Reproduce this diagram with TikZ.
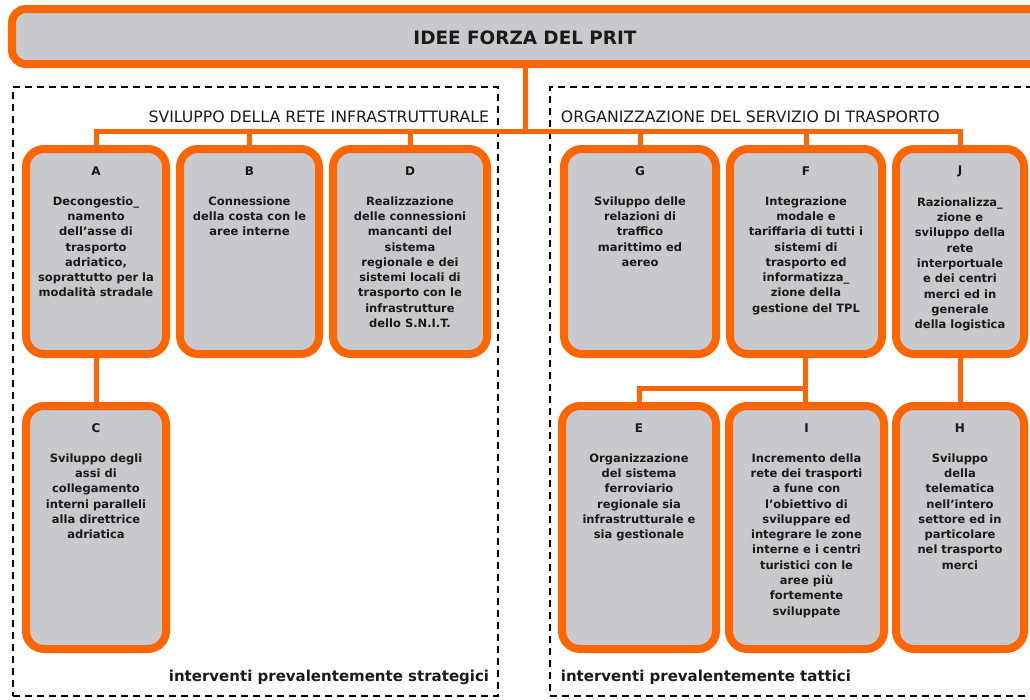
\documentclass[tikz,border=0pt]{standalone}
\usepackage{fontspec}
\setmainfont{DejaVu Sans}
\usetikzlibrary{shapes,arrows,positioning,calc}

\definecolor{prorange}{RGB}{255,102,0}
\definecolor{prgray}{RGB}{200,201,204}
\definecolor{prtext}{RGB}{26,26,26}

\begin{document}
\begin{tikzpicture}[x=1pt, y=-1pt,
  box/.style={draw=prorange, line width=8pt, fill=prgray, rounded corners=18pt, inner sep=0pt},
  link/.style={draw=prorange, line width=5pt},
  zone/.style={draw=black, line width=2.6pt, dash pattern=on 7pt off 5pt, inner sep=0pt},
  head/.style={font=\fontsize{15.7}{18}\selectfont, text=prtext, inner sep=0pt},
  foot/.style={font=\fontsize{15}{18}\selectfont\bfseries, text=prtext, inner sep=0pt},
  lbl/.style={font=\fontsize{12}{14}\selectfont\bfseries, text=prtext},
  txt/.style={font=\fontsize{11.5}{15.3}\selectfont\bfseries, text=prtext, align=center}]
\useasboundingbox (0,0) rectangle (1030,699);

% zone tratteggiate
\node[zone, minimum width=485, minimum height=609] (strat) at (255.5,391.5) {};
\node[zone, minimum width=495, minimum height=609] (tatt) at (797.5,391.5) {};
\node[head, anchor=east] (stitle) at ([xshift=-10pt,yshift=-31pt]strat.north east) {SVILUPPO DELLA RETE INFRASTRUTTURALE};
\node[head, anchor=west] (ttitle) at ([xshift=12pt,yshift=-31pt]tatt.north west) {ORGANIZZAZIONE DEL SERVIZIO DI TRASPORTO};
\node[foot, anchor=east] (sfoot) at ([xshift=-10pt,yshift=20pt]strat.south east) {interventi prevalentemente strategici};
\node[foot, anchor=west] (tfoot) at ([xshift=12pt,yshift=20pt]tatt.south west) {interventi prevalentemente tattici};

% titolo
\node[box, rounded corners=14pt, minimum width=1040, minimum height=55] (bar) at (532,36.5) {};
\node[font=\fontsize{18.4}{22}\selectfont\bfseries, text=prtext] (title) at (525,38) {IDEE FORZA DEL PRIT};

% prima fila
\node[box, minimum width=140, minimum height=205] (A) at (96,251.5) {};
\node[box, minimum width=139, minimum height=205] (B) at (249.5,251.5) {};
\node[box, minimum width=154, minimum height=205] (D) at (410,251.5) {};
\node[box, minimum width=152, minimum height=205] (G) at (640,251.5) {};
\node[box, minimum width=152, minimum height=205] (F) at (806,251.5) {};
\node[box, minimum width=128, minimum height=205] (J) at (960,251.5) {};

% seconda fila
\node[box, minimum width=140, minimum height=243] (C) at (96,527.5) {};
\node[box, minimum width=154, minimum height=243] (E) at (639,527.5) {};
\node[box, minimum width=155, minimum height=243] (I) at (806.5,527.5) {};
\node[box, minimum width=128, minimum height=243] (H) at (960,527.5) {};

% collegamenti
\coordinate (hub) at (525,131);
\coordinate (fork) at (805,388);
\draw[link] (bar.south -| hub) -- (hub);
\draw[link] (A.north) |- (hub) -| (J.north);
\foreach \n in {B,D,G,F}
  \draw[link] (\n.north) -- (\n.north |- hub);
\draw[link] (A.south) -- (C.north);
\draw[link] (F.south -| fork) -- (I.north -| fork);
\draw[link] (fork) -| (E.north);
\draw[link] (J.south) -- (H.north);

% testi
\foreach \n in {A,B,D,G,F,J,C,E,I,H}
  \node[lbl] (l\n) at ([yshift=-26pt]\n.north) {\n};
\node[txt, below=14pt of lA] (tA) {Decongestio\_\\namento\\dell'asse di\\trasporto\\adriatico,\\soprattutto per la\\modalità stradale};
\node[txt, below=14pt of lB] (tB) {Connessione\\della costa con le\\aree interne};
\node[txt, below=14pt of lD] (tD) {Realizzazione\\delle connessioni\\mancanti del\\sistema\\regionale e dei\\sistemi locali di\\trasporto con le\\infrastrutture\\dello S.N.I.T.};
\node[txt, below=14pt of lG] (tG) {Sviluppo delle\\relazioni di\\traffico\\marittimo ed\\aereo};
\node[txt, below=14pt of lF] (tF) {Integrazione\\modale e\\tariffaria di tutti i\\sistemi di\\trasporto ed\\informatizza\_\\zione della\\gestione del TPL};
\node[txt, below=14pt of lJ] (tJ) {Razionalizza\_\\zione e\\sviluppo della\\rete\\interportuale\\e dei centri\\merci ed in\\generale\\della logistica};
\node[txt, below=14pt of lC] (tC) {Sviluppo degli\\assi di\\collegamento\\interni paralleli\\alla direttrice\\adriatica};
\node[txt, below=14pt of lE] (tE) {Organizzazione\\del sistema\\ferroviario\\regionale sia\\infrastrutturale e\\sia gestionale};
\node[txt, below=14pt of lI] (tI) {Incremento della\\rete dei trasporti\\a fune con\\l'obiettivo di\\sviluppare ed\\integrare le zone\\interne e i centri\\turistici con le\\aree più\\fortemente\\sviluppate};
\node[txt, below=14pt of lH] (tH) {Sviluppo\\della\\telematica\\nell'intero\\settore ed in\\particolare\\nel trasporto\\merci};
\end{tikzpicture}
\end{document}
